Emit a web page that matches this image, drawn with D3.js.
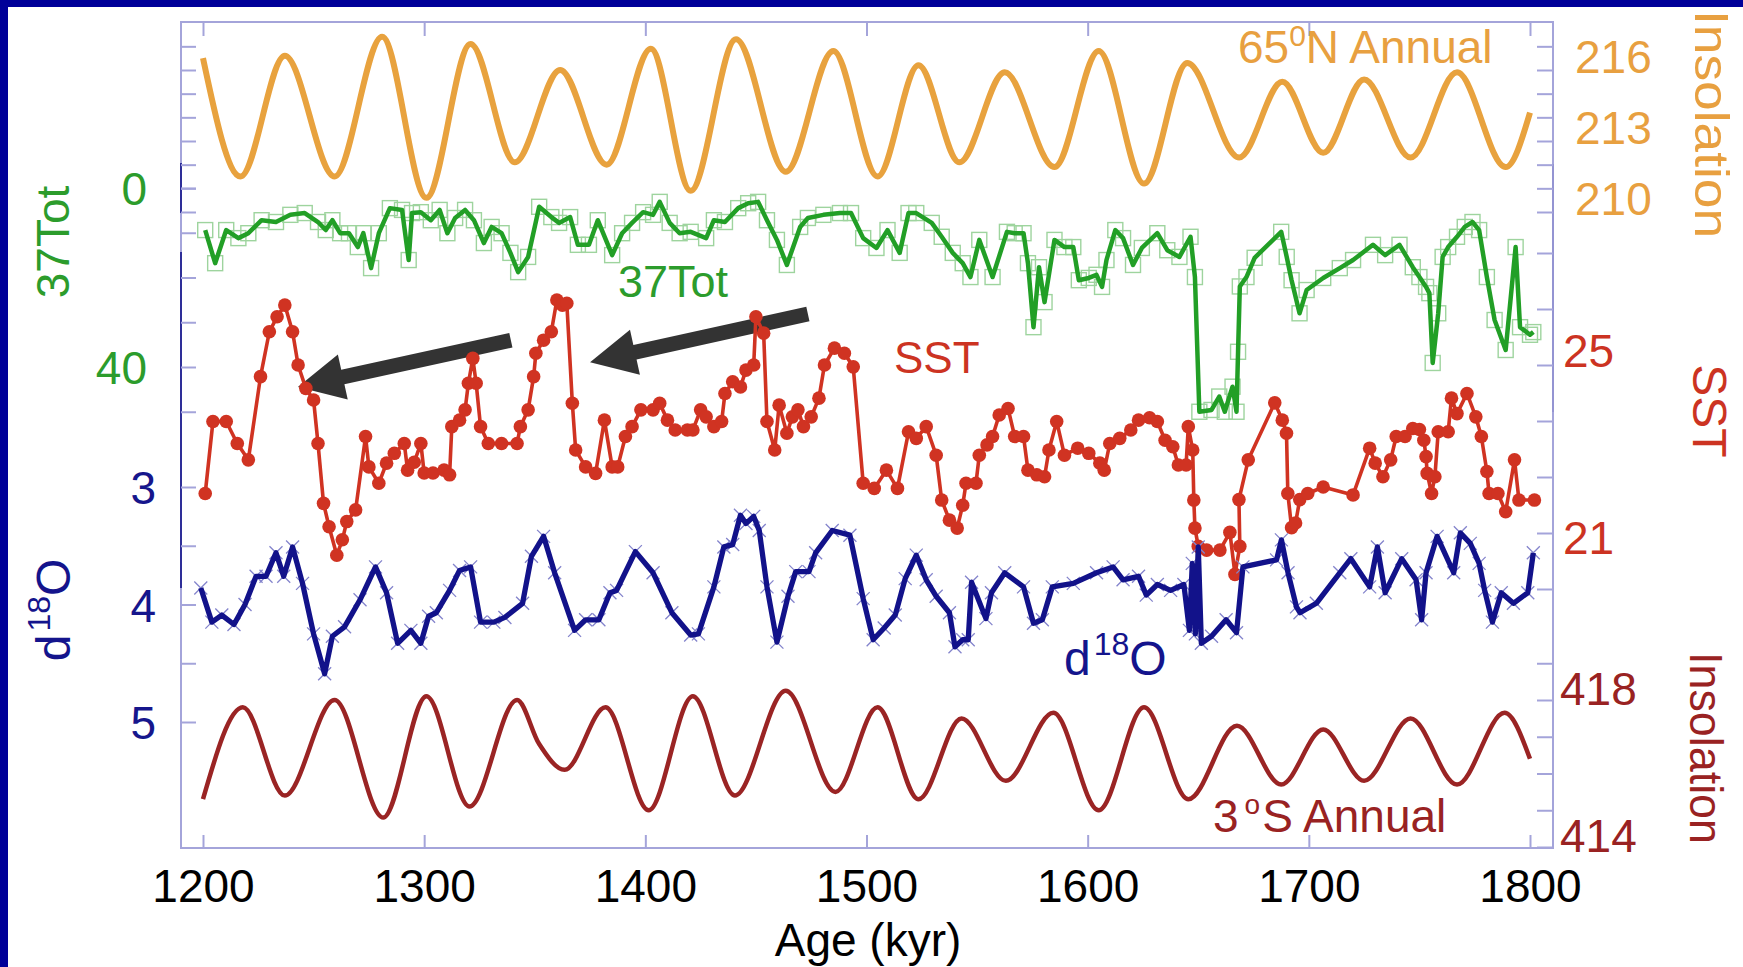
<!DOCTYPE html>
<html>
<head>
<meta charset="utf-8">
<script src="https://cdn.jsdelivr.net/npm/d3@7"></script>
<style>
  body { margin: 0; background: #fff; }
  svg text { font-family: "Liberation Sans", Arial, Helvetica, sans-serif; }
</style>
</head>
<body>
<svg id="chart" width="1743" height="967"></svg>
<script>
// ---- data ----
var xTicks = [1200, 1300, 1400, 1500, 1600, 1700, 1800];

// 65N annual insolation (extrema of the curve)
var ins65Age = [1200, 1217, 1237, 1259.5, 1281, 1301, 1321, 1341, 1361.5, 1382.5, 1402.5, 1420.5, 1441, 1463.5, 1485, 1505,
  1523.5, 1542, 1562.5, 1585, 1605, 1625.5, 1645, 1668.5, 1688, 1706.5, 1725, 1746, 1767, 1789, 1800];
var ins65 = [216.5, 211.5, 216.6, 211.5, 217.4, 210.6, 217.1, 212.1, 216.0, 212.0, 216.9, 210.9, 217.3, 211.7, 216.8, 211.5,
  216.2, 212.1, 215.9, 211.9, 216.8, 211.2, 216.3, 212.3, 215.5, 212.5, 215.6, 212.3, 215.9, 211.9, 214.2];

// 3S annual insolation
var ins3Age = [1200, 1218, 1237, 1259.5, 1281.5, 1301, 1320.5, 1342, 1352, 1363.5, 1382, 1401.5, 1421.5, 1440.5, 1463.5, 1486,
  1505, 1523.5, 1543, 1563, 1584.5, 1605, 1625.5, 1645.5, 1667.5, 1687.5, 1706.5, 1725, 1746, 1767, 1788.5, 1800];
var ins3 = [415.3, 417.8, 415.4, 418.0, 414.8, 418.1, 415.1, 418.0, 416.8, 416.1, 417.8, 415.0, 418.1, 415.4, 418.25, 415.5,
  417.8, 415.3, 417.5, 415.8, 417.65, 415.0, 417.8, 415.3, 417.3, 415.7, 417.2, 415.8, 417.5, 415.7, 417.65, 416.4];

// 37Tot
var tot37Age = [1201, 1205.5, 1210.5, 1216, 1220.5, 1226.5, 1233, 1239.5, 1246, 1252, 1255.5, 1258.5, 1262, 1266, 1270, 1272.5,
  1276, 1279.5, 1284.5, 1290, 1293, 1294.5, 1298.5, 1303, 1307, 1310.5, 1314, 1318.5, 1322.5, 1327, 1330.5, 1335, 1339, 1342.5,
  1347, 1352, 1357.5, 1361, 1366, 1369.5, 1374.5, 1378.5, 1385, 1389.5, 1394, 1399, 1403.5, 1406.5, 1411, 1415.5, 1420.5, 1427.5,
  1431, 1436, 1442, 1446.5, 1451, 1455, 1459.5, 1464, 1470, 1473.5, 1480.5, 1488, 1493, 1498.5, 1504.5, 1509.5, 1515, 1519,
  1522.5, 1529.5, 1534, 1539, 1543.5, 1547, 1551, 1557, 1563.5, 1567, 1571, 1573, 1575.5, 1578, 1580.5, 1585, 1589.5, 1593.5,
  1596, 1600.5, 1604, 1606.5, 1608.5, 1612.5, 1616, 1620.5, 1624.5, 1631.5, 1636, 1641.5, 1646.5, 1648.5, 1650.5, 1656, 1659.5,
  1662, 1665.5, 1667.3, 1668, 1668.8, 1671.8, 1675.5, 1687.5, 1690, 1692.2, 1695.8, 1699, 1706.5, 1714, 1720, 1729, 1734.5,
  1741, 1747, 1750, 1753, 1754.5, 1756, 1758.5, 1760.5, 1763, 1767, 1770.5, 1774, 1777, 1780.5, 1784, 1789, 1793.5, 1795.5,
  1800, 1801.5];
var tot37 = [9.4, 16.8, 9.4, 11.2, 10.1, 7.2, 7.6, 6.0, 5.6, 7.6, 9.4, 7.2, 10.1, 10.1, 13.2, 10.1,
  17.9, 10.1, 4.5, 4.9, 16.1, 5.6, 5.4, 7.2, 4.9, 10.1, 6.7, 4.9, 7.2, 12.3, 8.7, 10.1, 14.5, 18.8,
  15.4, 4.2, 6.5, 7.8, 6.5, 12.7, 12.7, 7.2, 15.0, 10.1, 7.8, 5.4, 6.0, 3.1, 7.8, 10.1, 9.8, 11.2,
  7.2, 7.6, 4.5, 3.4, 3.1, 7.2, 11.6, 17.2, 8.7, 6.7, 6.0, 5.6, 5.6, 11.2, 13.4, 9.4, 14.5, 5.6,
  5.6, 7.8, 10.9, 14.5, 16.8, 19.9, 11.6, 19.9, 9.8, 10.1, 10.1, 16.8, 31.1, 17.7, 25.5, 11.6, 13.2, 13.2,
  20.6, 20.1, 19.4, 22.1, 16.1, 9.4, 11.2, 17.2, 13.4, 10.1, 13.9, 15.4, 10.9, 19.9, 50.0, 49.6, 46.6,
  50.0, 44.4, 50.0, 36.6, 22.0, 19.9, 15.6, 9.8, 15.4, 20.6, 28.0, 22.8, 20.1, 17.9, 16.1, 12.7, 15.0,
  12.7, 17.7, 19.9, 22.1, 23.5, 39.1, 28.0, 15.4, 13.2, 10.9, 8.7, 7.6, 9.4, 19.9, 29.5, 36.2, 13.2, 31.1,
  32.8, 32.2];

// SST
var sstAge = [1201, 1204.5, 1210.5, 1215.5, 1220.5, 1226, 1230, 1233.5, 1237, 1240.5, 1243, 1246.5, 1250, 1252, 1254.5, 1257,
  1260.5, 1263, 1265, 1269, 1273.5, 1275, 1279.5, 1283, 1286.5, 1291, 1292.5, 1295.5, 1298.5, 1300, 1304, 1309, 1311.5, 1312.5,
  1316, 1318.5, 1320, 1322, 1323.5, 1325.5, 1329, 1335, 1342, 1343.5, 1347, 1349.5, 1350.5, 1354, 1357.5, 1360, 1362.5, 1364.5,
  1367, 1368.5, 1373, 1377.5, 1381.5, 1385, 1387.5, 1391, 1394, 1398, 1403.5, 1406.5, 1410, 1413.5, 1419, 1421.5, 1425, 1427.5,
  1431, 1434.5, 1436, 1439.5, 1443, 1445.5, 1449, 1450, 1453.5, 1455, 1458.5, 1460.5, 1464, 1466.5, 1469, 1471.5, 1475, 1478.5,
  1481, 1485.5, 1490, 1494, 1498.5, 1503.5, 1509, 1514, 1519, 1522.5, 1527, 1531.5, 1534, 1537.5, 1541, 1543.5, 1545, 1549.5,
  1551, 1554.5, 1557, 1560, 1564, 1567, 1571, 1573, 1577, 1580.5, 1582.5, 1586, 1589.5, 1595.5, 1600.5, 1605.5, 1607.5, 1610,
  1614.5, 1619.5, 1623, 1628, 1631.5, 1635, 1638.5, 1641, 1644.5, 1645.5, 1647.5, 1648, 1648.5, 1650, 1653.8, 1659.8, 1664.3,
  1666.6, 1668.8, 1668.4, 1672.6, 1684.6, 1688, 1689.9, 1690.5, 1692.2, 1694, 1695.9, 1699.5, 1706.5, 1720, 1727.5, 1730,
  1733.5, 1737, 1739.5, 1743.5, 1747, 1750, 1752, 1753, 1753.5, 1755.5, 1757, 1758.5, 1763, 1764.5, 1767, 1771.5, 1775.5,
  1778, 1780.5, 1781.5, 1785.5, 1789, 1793, 1795, 1802];
var sst = [21.93, 23.47, 23.47, 23.0, 22.65, 24.43, 25.39, 25.71, 25.96, 25.39, 24.68, 24.18, 23.93, 23.0, 21.72, 21.22,
  20.61, 20.94, 21.33, 21.58, 23.15, 22.5, 22.15, 22.58, 22.79, 23.0, 22.43, 22.6, 23.0, 22.37, 22.37, 22.43, 22.33, 23.36,
  23.5, 23.72, 24.29, 24.82, 24.29, 23.36, 23.0, 23.0, 23.0, 23.36, 23.72, 24.43, 24.93, 25.21, 25.39, 26.07, 25.96, 26.0,
  23.86, 22.86, 22.5, 22.36, 23.5, 22.5, 22.5, 23.15, 23.36, 23.72, 23.72, 23.86, 23.5, 23.29, 23.29, 23.29, 23.72, 23.57,
  23.36, 23.47, 24.07, 24.32, 24.21, 24.57, 24.68, 25.71, 25.36, 23.47, 22.86, 23.82, 23.22, 23.57, 23.72, 23.36, 23.57, 23.97,
  24.68, 25.04, 24.93, 24.64, 22.15, 22.04, 22.43, 22.04, 23.25, 23.11, 23.36, 22.75, 21.79, 21.36, 21.19, 21.68, 22.15, 22.15,
  22.75, 22.97, 23.15, 23.61, 23.75, 23.15, 23.15, 22.43, 22.33, 22.29, 22.86, 23.47, 22.75, 22.9, 22.79, 22.58, 22.43, 23.0,
  23.11, 23.29, 23.5, 23.55, 23.47, 23.07, 22.93, 22.54, 22.54, 23.36, 22.86, 21.79, 21.19, 20.8, 20.72, 20.72, 21.1,
  20.2, 20.8, 21.8, 22.65, 23.87, 23.5, 23.22, 21.93, 21.2, 21.3, 21.8, 21.93, 22.07, 21.9, 22.9, 22.58,
  22.29, 22.65, 23.15, 23.15, 23.32, 23.3, 23.07, 22.72, 22.36, 21.93, 22.29, 23.25, 23.25, 23.97, 23.64, 24.07, 23.57,
  23.15, 22.4, 21.93, 21.93, 21.54, 22.65, 21.79, 21.79];

// d18O
var d18Age = [1199, 1204, 1208.5, 1214, 1219, 1224, 1228.5, 1233, 1236.5, 1240.5, 1245, 1250, 1255, 1258.5, 1264, 1271,
  1278, 1283, 1288, 1294, 1298.5, 1302, 1305.5, 1311.5, 1316, 1321, 1325.5, 1331.5, 1336.5, 1344.5, 1348.5, 1354, 1359, 1368,
  1373, 1379, 1384, 1387, 1395.5, 1403.5, 1412, 1420.5, 1424, 1431, 1435.5, 1439.5, 1443, 1445.5, 1449, 1451.5, 1455, 1459.5,
  1464.5, 1468, 1474, 1477, 1484.5, 1492.5, 1498.5, 1503, 1508, 1513, 1517.5, 1522.5, 1527, 1531.5, 1537.5, 1540, 1543.5, 1546,
  1547.5, 1554, 1556.5, 1562.5, 1571, 1575.5, 1579.5, 1584, 1593.5, 1604, 1611.5, 1616, 1623, 1626.5, 1631.5, 1637.5, 1643.5,
  1646, 1647.3, 1648.7, 1650, 1651.4, 1656, 1662.6, 1667.3, 1670.2, 1685.4, 1687.6, 1690.6, 1694.4, 1696, 1703.4, 1714, 1719,
  1727.5, 1731, 1734.5, 1742, 1748.5, 1751, 1753, 1758, 1765.5, 1768.5, 1773, 1777, 1779.5, 1783, 1787, 1792.5, 1799, 1801.5];
var d18 = [3.86, 4.15, 4.09, 4.17, 4.0, 3.76, 3.76, 3.56, 3.76, 3.51, 3.82, 4.25, 4.59, 4.27, 4.19, 3.96,
  3.68, 3.9, 4.33, 4.22, 4.33, 4.1, 4.07, 3.88, 3.71, 3.68, 4.15, 4.15, 4.11, 3.99, 3.59, 3.42, 3.73, 4.22,
  4.13, 4.13, 3.9, 3.88, 3.55, 3.73, 4.07, 4.26, 4.25, 3.85, 3.51, 3.49, 3.24, 3.31, 3.25, 3.37, 3.85, 4.32,
  3.93, 3.72, 3.72, 3.56, 3.37, 3.41, 3.95, 4.3, 4.2, 4.09, 3.78, 3.58, 3.79, 3.93, 4.07, 4.36, 4.3, 4.3,
  3.81, 4.12, 3.9, 3.73, 3.85, 4.16, 4.13, 3.85, 3.82, 3.73, 3.68, 3.79, 3.76, 3.92, 3.83, 3.88, 3.83,
  4.22, 3.65, 4.25, 3.51, 4.33, 4.27, 4.13, 4.24, 3.68, 3.62, 3.45, 3.73, 4.02, 4.07, 3.99, 3.73, 3.61,
  3.85, 3.51, 3.9, 3.61, 3.79, 4.13, 3.73, 3.42, 3.73, 3.39, 3.48, 3.65, 3.88, 4.15, 3.9, 3.99, 3.9, 3.56];

// arrows, in (age, SST) units: [tailAge, tailSst, tipAge, tipSst]
var arrows = [[1339.2, 25.21, 1242.9, 24.21], [1473.5, 25.77, 1375.0, 24.74]];

// ---- drawing ----
var svg = d3.select('#chart');
var plotL = 181, plotR = 1553, plotT = 22, plotB = 848;
var axisColor = '#a4a4da';
var fmtInt = d3.format('d');

svg.append('rect').attr('width', 1743).attr('height', 967).attr('fill', '#fff');
svg.append('rect').attr('x', 0).attr('y', 0).attr('width', 1743).attr('height', 7).attr('fill', '#000099');
svg.append('rect').attr('x', 0).attr('y', 0).attr('width', 8).attr('height', 967).attr('fill', '#000099');

var x = d3.scaleLinear().domain([1200, 1800]).range([203, 1530]);
var yIns65 = d3.scaleLinear().domain([210, 216]).range([212, 70]);
var yTot = d3.scaleLinear().domain([0, 40]).range([188, 367]);
var ySst = d3.scaleLinear().domain([21, 25]).range([537, 350]);
var ySstTicks = d3.scaleLinear().domain([20, 26]).range([589, 253]);
var yD18 = d3.scaleLinear().domain([3, 5]).range([487, 722]);
var yIns3 = d3.scaleLinear().domain([414, 418]).range([847, 700]);

// frame
var frame = svg.append('g').attr('stroke', axisColor).attr('stroke-width', 2).attr('fill', 'none');
frame.append('rect').attr('x', plotL).attr('y', plotT).attr('width', plotR - plotL).attr('height', plotB - plotT);
[[163, 213], [252, 588]].forEach(function (s) {
  svg.append('line').attr('x1', plotL).attr('x2', plotL).attr('y1', s[0]).attr('y2', s[1])
    .attr('stroke', '#2e2e98').attr('stroke-width', 2);
});
svg.append('line').attr('x1', plotR).attr('x2', plotR).attr('y1', 164).attr('y2', 412)
  .attr('stroke', '#9494d2').attr('stroke-width', 2);

function addAxis(axis, tx, ty) {
  var g = svg.append('g').attr('transform', 'translate(' + tx + ',' + ty + ')').call(axis);
  g.select('.domain').remove();
  g.selectAll('.tick line').attr('stroke', axisColor).attr('stroke-width', 2);
  g.attr('font-family', null).attr('font-size', 46);
  return g;
}

// x axes
addAxis(d3.axisTop(x).tickValues(xTicks).tickSizeInner(-14).tickSizeOuter(0).tickFormat(''), 0, plotT);
addAxis(d3.axisBottom(x).tickValues(xTicks).tickSizeInner(-13).tickSizeOuter(0).tickPadding(21).tickFormat(fmtInt), 0, plotB)
  .selectAll('text').attr('fill', '#000');

// left side
addAxis(d3.axisRight(yIns65).tickValues(d3.range(210, 218)).tickSize(15).tickFormat(''), plotL, 0);
addAxis(d3.axisLeft(yTot).tickValues([0, 10, 20, 30, 40, 50]).tickSizeInner(-15).tickSizeOuter(0).tickPadding(34)
  .tickFormat(function (d) { return (d === 0 || d === 40) ? d : ''; }), plotL, 0)
  .selectAll('text').attr('fill', '#2c9c2c').attr('dy', '0.36em');
addAxis(d3.axisLeft(yD18).tickValues([3, 3.5, 4, 4.5, 5]).tickSizeInner(-15).tickSizeOuter(0).tickPadding(25)
  .tickFormat(function (d) { return d % 1 === 0 ? d : ''; }), plotL, 0)
  .selectAll('text').attr('fill', '#16168c').attr('dy', '0.36em');

// right side
addAxis(d3.axisLeft(yIns65).tickValues(d3.range(210, 218)).tickSize(16).tickFormat(''), plotR, 0);
addAxis(d3.axisLeft(ySstTicks).tickValues(d3.range(20, 27)).tickSize(16).tickFormat(''), plotR, 0);
addAxis(d3.axisLeft(yIns3).tickValues(d3.range(414, 420)).tickSize(16).tickFormat(''), plotR, 0);
addAxis(d3.axisRight(yIns65).tickValues([210, 213, 216]).tickSize(0).tickPadding(22).tickFormat(fmtInt), plotR, 0)
  .selectAll('text').attr('fill', '#e8a040').attr('y', -14).attr('dy', '0.36em');
addAxis(d3.axisRight(ySst).tickValues([21, 25]).tickSize(0).tickPadding(10).tickFormat(fmtInt), plotR, 0)
  .selectAll('text').attr('fill', '#cc3322').attr('dy', '0.36em');
addAxis(d3.axisRight(yIns3).tickValues([414, 418]).tickSize(0).tickPadding(7).tickFormat(fmtInt), plotR, 0)
  .selectAll('text').attr('fill', '#992222').attr('y', -12).attr('dy', '0.36em');

function pts(ages, vals) { return d3.zip(ages, vals); }

// 65N insolation
svg.append('path')
  .attr('d', d3.line().x(function (d) { return x(d[0]); }).y(function (d) { return yIns65(d[1]); })
    .curve(d3.curveMonotoneX)(pts(ins65Age, ins65)))
  .attr('fill', 'none').attr('stroke', '#e8a23e').attr('stroke-width', 6).attr('stroke-linejoin', 'round');

// 37Tot
var totPts = pts(tot37Age, tot37);
svg.append('g').selectAll('rect').data(totPts).join('rect')
  .attr('x', function (d) { return x(d[0]) - 7.5; })
  .attr('y', function (d) { return yTot(d[1]) - 7.5; })
  .attr('width', 15).attr('height', 15)
  .attr('fill', 'none').attr('stroke', '#9ed49e').attr('stroke-width', 1.4);
svg.append('path')
  .attr('d', d3.line().x(function (d) { return x(d[0]); }).y(function (d) { return yTot(d[1]); })(totPts))
  .attr('fill', 'none').attr('stroke', '#229f26').attr('stroke-width', 4.5).attr('stroke-linejoin', 'round');

// arrows (drawn under the SST curve)
arrows.forEach(function (a) {
  var x0 = x(a[0]), y0 = ySst(a[1]), x1 = x(a[2]), y1 = ySst(a[3]);
  var len = Math.hypot(x1 - x0, y1 - y0);
  var ux = (x1 - x0) / len, uy = (y1 - y0) / len, nx = -uy, ny = ux;
  var hw = 7.4, headL = 46, headW = 23;
  var bx = x1 - ux * headL, by = y1 - uy * headL;
  var poly = [[x0 + nx * hw, y0 + ny * hw], [bx + nx * hw, by + ny * hw], [bx + nx * headW, by + ny * headW],
    [x1, y1], [bx - nx * headW, by - ny * headW], [bx - nx * hw, by - ny * hw], [x0 - nx * hw, y0 - ny * hw]];
  svg.append('polygon').attr('points', poly.map(function (p) { return p.join(','); }).join(' '))
    .attr('fill', '#333333');
});

// SST
var sstPts = pts(sstAge, sst);
svg.append('path')
  .attr('d', d3.line().x(function (d) { return x(d[0]); }).y(function (d) { return ySst(d[1]); })(sstPts))
  .attr('fill', 'none').attr('stroke', '#d03322').attr('stroke-width', 3.6).attr('stroke-linejoin', 'round');
svg.append('g').selectAll('circle').data(sstPts).join('circle')
  .attr('cx', function (d) { return x(d[0]); })
  .attr('cy', function (d) { return ySst(d[1]); })
  .attr('r', 6.8).attr('fill', '#d03322');

// d18O
var d18Pts = pts(d18Age, d18);
svg.append('g').selectAll('path').data(d18Pts).join('path')
  .attr('transform', function (d) { return 'translate(' + x(d[0]) + ',' + yD18(d[1]) + ')'; })
  .attr('d', 'M-6.5,-6.5L6.5,6.5M-6.5,6.5L6.5,-6.5')
  .attr('stroke', '#8484cc').attr('stroke-width', 1.3).attr('fill', 'none');
svg.append('path')
  .attr('d', d3.line().x(function (d) { return x(d[0]); }).y(function (d) { return yD18(d[1]); })(d18Pts))
  .attr('fill', 'none').attr('stroke', '#12128a').attr('stroke-width', 5.3).attr('stroke-linejoin', 'round');

// 3S insolation
svg.append('path')
  .attr('d', d3.line().x(function (d) { return x(d[0]); }).y(function (d) { return yIns3(d[1]); })
    .curve(d3.curveMonotoneX)(pts(ins3Age, ins3)))
  .attr('fill', 'none').attr('stroke', '#9a2424').attr('stroke-width', 4.5).attr('stroke-linejoin', 'round');

// ---- text labels ----
function label(txt, px, py, size, color, anchor, rot) {
  var t = svg.append('text').attr('font-size', size).attr('fill', color)
    .attr('text-anchor', anchor || 'start');
  if (rot) t.attr('transform', 'translate(' + px + ',' + py + ') rotate(' + rot + ')');
  else t.attr('x', px).attr('y', py);
  if (txt !== null) t.text(txt);
  return t;
}

// 65N Annual
var t65 = label(null, 1238, 63, 46, '#e8a040');
t65.append('tspan').text('65');
t65.append('tspan').attr('font-size', 30).attr('dy', -17).text('0');
t65.append('tspan').attr('dy', 17).text('N Annual');

// 3 oS Annual
var t3 = label(null, 1213, 832, 46, '#992222');
t3.append('tspan').text('3');
t3.append('tspan').attr('font-size', 28).attr('dx', 6).attr('dy', -18).text('o');
t3.append('tspan').attr('dx', 2).attr('dy', 18).text('S Annual');

label('37Tot', 618, 297, 45, '#2c9c2c');
label('SST', 894, 373, 44, '#cc3322');

var td = label(null, 1064, 675, 48, '#14148c');
td.append('tspan').text('d');
td.append('tspan').attr('font-size', 32).attr('dx', 3).attr('dy', -20).text('18');
td.append('tspan').attr('dy', 20).text('O');

// left rotated titles
label('37Tot', 69, 242, 46, '#2c9c2c', 'middle', -90);
var tl = label(null, 70, 610, 48, '#14148c', 'middle', -90);
tl.append('tspan').text('d');
tl.append('tspan').attr('font-size', 32).attr('dx', 3).attr('dy', -20).text('18');
tl.append('tspan').attr('dy', 20).text('O');

// right rotated titles
label('Insolation', 1695, 124, 48, '#e8a040', 'middle', 90).attr('textLength', 228).attr('lengthAdjust', 'spacingAndGlyphs');
label('SST', 1693, 411, 48, '#cc3322', 'middle', 90);
label('Insolation', 1690, 748, 46, '#992222', 'middle', 90).attr('textLength', 192).attr('lengthAdjust', 'spacingAndGlyphs');

// x title
label('Age (kyr)', 868, 956, 46, '#000', 'middle');
</script>
</body>
</html>
